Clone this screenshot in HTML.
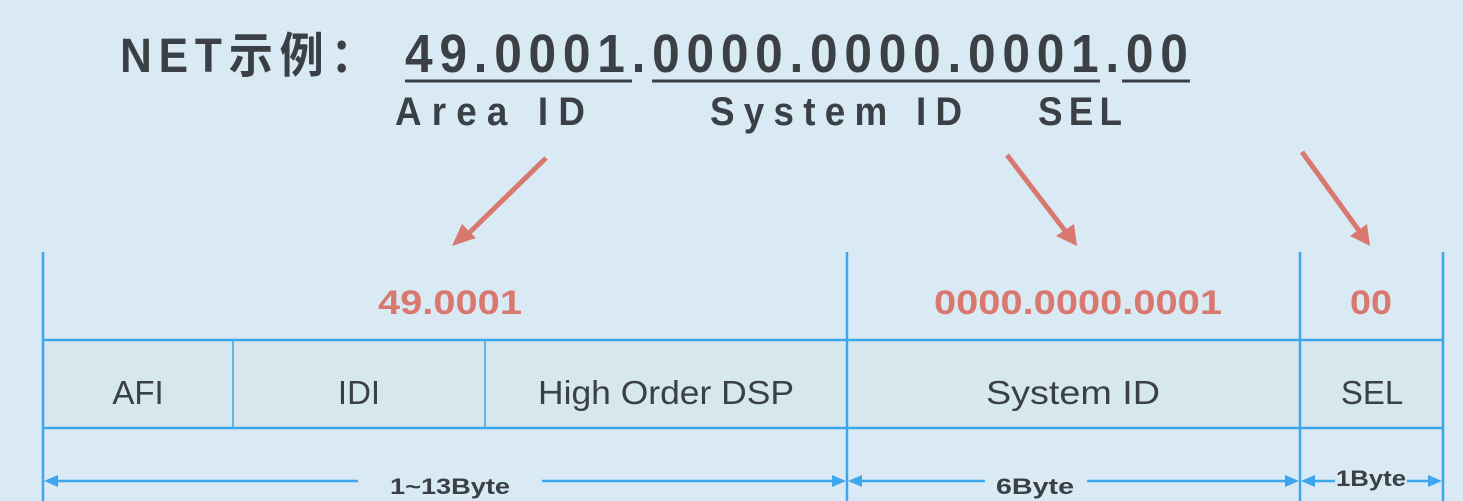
<!DOCTYPE html>
<html><head><meta charset="utf-8"><style>
html,body{margin:0;padding:0;background:#d9eaf5;}
svg{display:block;}
</style></head><body>
<svg width="1463" height="501" viewBox="0 0 1463 501" xmlns="http://www.w3.org/2000/svg">
<rect x="0" y="0" width="1463" height="501" fill="#d9eaf5"/>
<g font-family="'Liberation Sans','Noto Sans CJK SC',sans-serif" font-weight="bold" fill="#3a4045" transform="scale(0.92,1)">
<text x="130.4" y="72" font-size="48" textLength="277" lengthAdjust="spacing">NET示例：</text>
<text x="440.2" y="72" font-size="54" textLength="851" lengthAdjust="spacing">49.0001.0000.0000.0001.00</text>
<text x="429.3" y="125" font-size="40" textLength="206.5" lengthAdjust="spacing">Area ID</text>
<text x="771.7" y="125" font-size="40" textLength="274" lengthAdjust="spacing">System ID</text>
<text x="1128.3" y="125" font-size="40" textLength="91.3" lengthAdjust="spacing">SEL</text>
</g>
<g stroke="#3a4045" stroke-width="3">
<line x1="405" y1="81" x2="632" y2="81"/>
<line x1="652" y1="81" x2="1100" y2="81"/>
<line x1="1122" y1="81" x2="1190" y2="81"/>
</g>
<g stroke="#d9786e" stroke-width="5" fill="#d9786e">
<line x1="546" y1="158" x2="468" y2="234"/>
<line x1="1007" y1="155" x2="1066" y2="232"/>
<line x1="1302" y1="152" x2="1360" y2="232"/>
</g>
<g fill="#d9786e">
<polygon points="452,246 462,224 476,238"/>
<polygon points="1077,246 1056,236 1074,224"/>
<polygon points="1370,246 1350,236 1367,224"/>
</g>
<rect x="43" y="340" width="1400" height="88" fill="#d6e7ee"/>
<g stroke="#3ea6ea" stroke-width="2.5" fill="none">
<line x1="43" y1="252" x2="43" y2="501"/>
<line x1="847" y1="252" x2="847" y2="501"/>
<line x1="1300" y1="252" x2="1300" y2="501"/>
<line x1="1443" y1="252" x2="1443" y2="501"/>
<line x1="43" y1="340" x2="1443" y2="340"/>
<line x1="43" y1="428" x2="1443" y2="428"/>
<line x1="233" y1="340" x2="233" y2="428" stroke-width="1.5"/>
<line x1="485" y1="340" x2="485" y2="428" stroke-width="1.5"/>
<line x1="55" y1="481" x2="358" y2="481"/>
<line x1="542" y1="481" x2="836" y2="481"/>
<line x1="858" y1="481" x2="985" y2="481"/>
<line x1="1087" y1="481" x2="1290" y2="481"/>
<line x1="1310" y1="481" x2="1335" y2="481"/>
<line x1="1407" y1="481" x2="1432" y2="481"/>
</g>
<g fill="#3ea6ea">
<polygon points="44,481 58,475 58,487"/>
<polygon points="846,481 832,475 832,487"/>
<polygon points="848,481 862,475 862,487"/>
<polygon points="1299,481 1285,475 1285,487"/>
<polygon points="1301,481 1315,475 1315,487"/>
<polygon points="1442,481 1428,475 1428,487"/>
</g>
<g font-family="'Liberation Sans',sans-serif" font-weight="bold" fill="#d9786e" font-size="34" text-anchor="middle">
<text x="450" y="314" textLength="144" lengthAdjust="spacingAndGlyphs">49.0001</text>
<text x="1078" y="314" textLength="288" lengthAdjust="spacingAndGlyphs">0000.0000.0001</text>
<text x="1371" y="314" textLength="42" lengthAdjust="spacingAndGlyphs">00</text>
</g>
<g font-family="'Liberation Sans',sans-serif" fill="#3a4045" font-size="33" text-anchor="middle">
<text x="138" y="404">AFI</text>
<text x="359" y="404">IDI</text>
<text x="666" y="404" textLength="256" lengthAdjust="spacingAndGlyphs">High Order DSP</text>
<text x="1073" y="404" textLength="174" lengthAdjust="spacingAndGlyphs">System ID</text>
<text x="1372" y="404">SEL</text>
</g>
<g font-family="'Liberation Sans',sans-serif" font-weight="bold" fill="#3a4045" font-size="22" text-anchor="middle">
<text x="450" y="494" textLength="120" lengthAdjust="spacingAndGlyphs">1~13Byte</text>
<text x="1035" y="494" textLength="78" lengthAdjust="spacingAndGlyphs">6Byte</text>
<text x="1371" y="486" textLength="70" lengthAdjust="spacingAndGlyphs">1Byte</text>
</g>
</svg>
</body></html>
